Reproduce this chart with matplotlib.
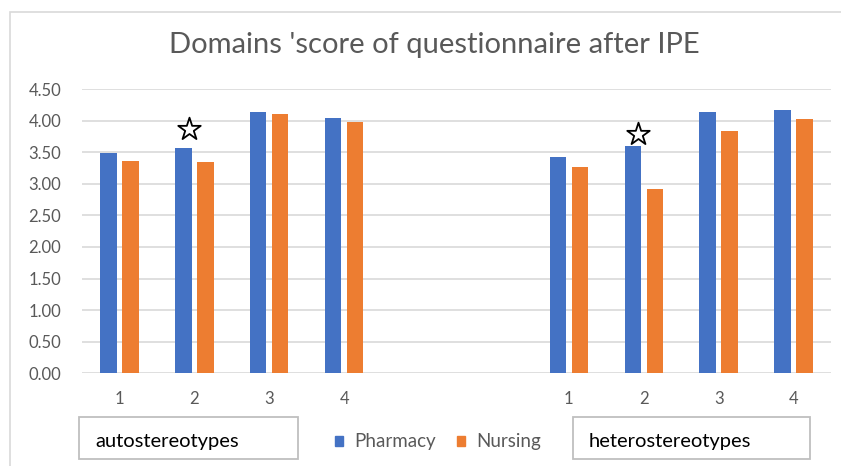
import numpy as np
import matplotlib.pyplot as plt
from matplotlib.patches import Rectangle, Patch

plt.rcParams['font.family'] = ['Lato', 'DejaVu Sans']

# data
ticks = ['1', '2', '3', '4', '', '', '1', '2', '3', '4']
pharmacy = [3.48, 3.57, 4.14, 4.04, np.nan, np.nan, 3.42, 3.59, 4.14, 4.16]
nursing = [3.36, 3.34, 4.10, 3.98, np.nan, np.nan, 3.26, 2.92, 3.84, 4.03]
star_at = [1, 7]          # categories marked with a star
star_gap = [0.30, 0.19]   # height of star above the pharmacy bar
groups = ['autostereotypes', 'heterostereotypes']

blue = '#4472C4'
orange = '#ED7D31'
grey = '#595959'

W, H = 841, 466
fig = plt.figure(figsize=(W / 100, H / 100), dpi=100)
ax = fig.add_axes([82 / W, 1 - 373.3 / H, (831 - 82) / W, (373.3 - 89) / H])

x = np.arange(len(ticks))
bw = 0.22
off = 0.147
ax.bar(x - off, pharmacy, bw, color=blue, zorder=3)
ax.bar(x + off, nursing, bw, color=orange, zorder=3)

sx = [x[i] - off + 0.07 for i in star_at]
sy = [pharmacy[i] + g for i, g in zip(star_at, star_gap)]
ax.scatter(sx, sy, marker='*', s=290, facecolor='white', edgecolor='black',
           linewidth=1.3, zorder=4, clip_on=False)

ax.set_xlim(-0.5, len(ticks) - 0.5)
ax.set_ylim(0, 4.5)
ax.set_yticks(np.arange(0, 4.51, 0.5))
ax.set_yticklabels(['%.2f' % v for v in np.arange(0, 4.51, 0.5)])
ax.set_xticks(x)
ax.set_xticklabels(ticks)
ax.tick_params(length=0, labelsize=12, labelcolor=grey)
ax.tick_params(axis='y', pad=15)
ax.tick_params(axis='x', pad=13)
ax.grid(axis='y', color='#d9d9d9', linewidth=1.2, zorder=0)
for s in ax.spines.values():
    s.set_visible(False)

fig.text(434 / W, 1 - 45 / H, "Domains 'score of questionnaire after IPE",
         ha='center', va='center', fontsize=21, color=grey)

# outer chart frame (left and top only visible)
fig.patches.append(Rectangle((10 / W, -0.1), 1.2, (H - 12) / H + 0.1, transform=fig.transFigure,
                             fill=False, edgecolor='#d9d9d9', linewidth=1.2))

# boxed group labels
for (x0, x1), name in zip([(79, 298), (573, 810)], groups):
    fig.patches.append(Rectangle((x0 / W, 1 - 459 / H), (x1 - x0) / W, 42 / H,
                                 transform=fig.transFigure, fill=False,
                                 edgecolor='#bfbfbf', linewidth=1.3))
    fig.text((x0 + 16) / W, 1 - 441 / H, name, ha='left', va='center',
             fontsize=14.5, color='black')

handles = [Patch(color=blue, label='Pharmacy'), Patch(color=orange, label='Nursing')]
fig.legend(handles=handles, loc='center', bbox_to_anchor=(438 / W, 1 - 442 / H), ncol=2,
           frameon=False, fontsize=13.5, labelcolor=grey, handlelength=0.45, handleheight=0.45,
           handletextpad=0.6, columnspacing=1.1, borderpad=0)

fig.savefig('out.png', dpi=100)
